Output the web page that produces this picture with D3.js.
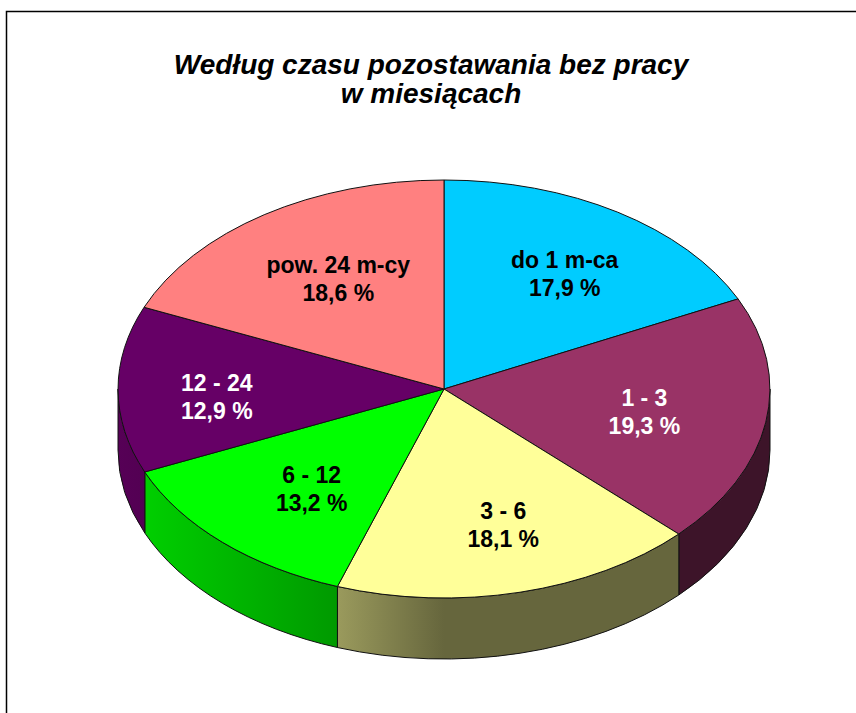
<!DOCTYPE html>
<html>
<head>
<meta charset="utf-8">
<script src="https://cdn.jsdelivr.net/npm/d3@7"></script>
<style>
  html, body { margin: 0; padding: 0; background: #fff; }
  svg { display: block; }
</style>
</head>
<body>
<svg id="chart" width="856" height="713"></svg>
<script>
// ---- data ----
const titleLines = ["Według czasu pozostawania bez pracy", "w miesiącach"];
const categories = ["do 1 m-ca", "1 - 3", "3 - 6", "6 - 12", "12 - 24", "pow. 24 m-cy"];
const values = [17.9, 19.3, 18.1, 13.2, 12.9, 18.6];
const valueLabels = ["17,9 %", "19,3 %", "18,1 %", "13,2 %", "12,9 %", "18,6 %"];

// ---- styles ----
const colors = ["#00CCFF", "#993366", "#FFFF99", "#00FF00", "#660066", "#FF8080"];
const labelColors = ["#000", "#fff", "#000", "#000", "#fff", "#000"];
const labelNudge = [[6, 0], [-12, -1], [9, 0], [14, -3], [-12, 6], [13, 3]];

const W = 856, H = 713;
const cx = 444, cy = 389, rx = 326, ry = 209, depth = 61;

const svg = d3.select("#chart");
const defs = svg.append("defs");

// frame
svg.append("rect")
  .attr("x", 6.5).attr("y", 11.5)
  .attr("width", 1000).attr("height", 1000)
  .attr("fill", "#fff").attr("stroke", "#000").attr("stroke-width", 1.5);

// title
svg.append("text")
  .attr("x", 431).attr("y", 74)
  .attr("text-anchor", "middle")
  .style("font-family", "'Liberation Sans', Arial, sans-serif")
  .style("font-weight", "bold").style("font-style", "italic")
  .style("font-size", "28px").attr("fill", "#000")
  .selectAll("tspan").data(titleLines).join("tspan")
  .attr("x", 431).attr("dy", (d, i) => i === 0 ? 0 : 29)
  .text(d => d);

// pie angles
const pie = d3.pie().sort(null).value(d => d).startAngle(0).endAngle(2 * Math.PI);
const arcs = pie(values);

const P = (a, dy = 0) => [cx + rx * Math.sin(a), cy - ry * Math.cos(a) + dy];

// side shading (left lighter -> right darker)
const shadeStops = [[0, 0.84], [0.34, 0.6], [0.5, 0.4], [1, 0.4]];
colors.forEach((c, i) => {
  const g = defs.append("linearGradient")
    .attr("id", "side" + i)
    .attr("gradientUnits", "userSpaceOnUse")
    .attr("x1", cx - rx).attr("x2", cx + rx).attr("y1", 0).attr("y2", 0);
  const base = d3.rgb(c);
  shadeStops.forEach(([o, f]) => {
    g.append("stop").attr("offset", o)
      .attr("stop-color", d3.rgb(base.r * f, base.g * f, base.b * f).formatHex());
  });
});

// side faces (front half only: angles between PI/2 and 3PI/2)
const sides = svg.append("g");
arcs.forEach((d, i) => {
  const a = Math.max(d.startAngle, Math.PI / 2);
  const b = Math.min(d.endAngle, 3 * Math.PI / 2);
  if (b <= a) return;
  const p0 = P(a), p1 = P(b), q1 = P(b, depth), q0 = P(a, depth);
  const path = `M${p0}A${rx},${ry} 0 0 1 ${p1}L${q1}A${rx},${ry} 0 0 0 ${q0}Z`;
  sides.append("path")
    .attr("d", path)
    .attr("fill", `url(#side${i})`)
    .attr("stroke", "#111").attr("stroke-width", 1).attr("stroke-linejoin", "round");
});

// top faces
const arcGen = d3.arc().innerRadius(0).outerRadius(1);
svg.append("g")
  .attr("transform", `translate(${cx},${cy}) scale(${rx},${ry})`)
  .selectAll("path").data(arcs).join("path")
  .attr("d", arcGen)
  .attr("fill", (d, i) => colors[i])
  .attr("stroke", "#111").attr("stroke-width", 1)
  .attr("vector-effect", "non-scaling-stroke")
  .attr("stroke-linejoin", "round");

// labels
const labels = svg.append("g")
  .style("font-family", "'Liberation Sans', Arial, sans-serif")
  .style("font-weight", "bold").style("font-size", "23px")
  .attr("text-anchor", "middle");
arcs.forEach((d, i) => {
  const m = (d.startAngle + d.endAngle) / 2;
  const f = 0.66;
  const x = cx + rx * f * Math.sin(m) + labelNudge[i][0];
  const y = cy + 10 - ry * f * Math.cos(m) + labelNudge[i][1];
  const t = labels.append("text").attr("fill", labelColors[i]);
  t.append("tspan").attr("x", x).attr("y", y - 14).text(categories[i]);
  t.append("tspan").attr("x", x).attr("y", y + 14).text(valueLabels[i]);
});
</script>
</body>
</html>
